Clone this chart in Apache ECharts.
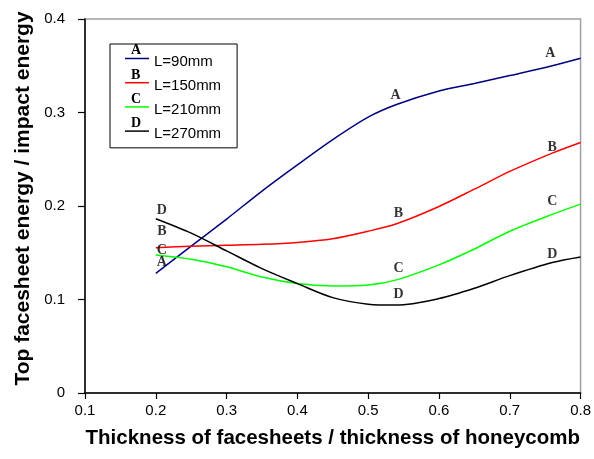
<!DOCTYPE html>
<html>
<head>
<meta charset="utf-8">
<script src="https://cdn.jsdelivr.net/npm/echarts@6/dist/echarts.min.js"></script>
<style>
html,body{margin:0;padding:0;background:#fff;}
#chart{width:594px;height:459px;}
</style>
</head>
<body>
<div id="chart"></div>
<script>
// ---- data ----
var xs      = [0.2,   0.25,  0.3,   0.35,  0.4,   0.45,  0.5,   0.54,  0.6,   0.65,  0.7,   0.76,  0.8];
var seriesA = [0.128, 0.157, 0.186, 0.216, 0.244, 0.271, 0.295, 0.3085,0.323, 0.331, 0.3395,0.350, 0.358];
var seriesB = [0.1554,0.157, 0.158, 0.159, 0.161, 0.165, 0.173, 0.181, 0.1995,0.218, 0.237, 0.2566,0.268];
var seriesC = [0.1476,0.143, 0.135, 0.124, 0.117, 0.1145,0.1155,0.121, 0.137, 0.154, 0.173, 0.191, 0.202];
var seriesD = [0.1864,0.171, 0.152, 0.133, 0.117, 0.102, 0.095, 0.094, 0.101, 0.112, 0.1255,0.1395,0.1455];
var names   = ['L=90mm', 'L=150mm', 'L=210mm', 'L=270mm'];
var letters = ['A', 'B', 'C', 'D'];
var xTicks  = [0.1, 0.2, 0.3, 0.4, 0.5, 0.6, 0.7, 0.8];
var yTicks  = [0, 0.1, 0.2, 0.3, 0.4];
var labelIdx = [0, 7, 11]; // data points that carry the curve letters

// ---- styling ----
var colors = ['#00007f', '#ff0000', '#00ff00', '#000000'];
// label offsets (px) for [start, middle, end] label of each curve
var labelOffsets = [
  [[6, -11], [-1, -9], [-2, -12]],
  [[6, -16], [2, -10], [0, -6]],
  [[6, -5],  [2, -11], [0, -13]],
  [[6, -8],  [2, -11], [0, -8]]
];
var allData = [seriesA, seriesB, seriesC, seriesD];

function pairs(ys) { return xs.map(function (x, i) { return [x, ys[i]]; }); }

var series = [];
allData.forEach(function (ys, k) {
  series.push({
    name: names[k],
    type: 'line',
    data: pairs(ys),
    smooth: 0.3,
    symbol: 'none',
    lineStyle: { color: colors[k], width: 1.5 },
    itemStyle: { color: colors[k] },
    z: 3
  });
  series.push({
    name: letters[k] + '_lbl',
    type: 'scatter',
    silent: true,
    symbol: 'circle',
    symbolSize: 1,
    itemStyle: { color: 'rgba(0,0,0,0)' },
    data: labelIdx.map(function (idx, j) {
      return {
        value: [xs[idx], ys[idx]],
        label: { offset: labelOffsets[k][j] }
      };
    }),
    label: {
      show: true,
      position: 'inside',
      formatter: letters[k],
      fontFamily: 'Liberation Serif',
      fontWeight: 'bold',
      fontSize: 14,
      color: '#000'
    },
    z: 5
  });
});

var legendLetterY = [51.7, 76, 100.5, 124.3];
var graphics = letters.map(function (l, k) {
  return {
    type: 'text',
    left: 131,
    top: legendLetterY[k] - 8,
    z: 100,
    style: {
      text: l,
      font: 'bold 14px "Liberation Serif"',
      fill: '#000'
    }
  };
});

var chart = echarts.init(document.getElementById('chart'), null, { renderer: 'canvas' });
chart.setOption({
  animation: false,
  backgroundColor: '#fff',
  grid: {
    left: 85, right: 12, top: 19, bottom: 66,
    show: true, borderColor: '#a0a0a0', borderWidth: 1.5, backgroundColor: 'transparent'
  },
  legend: {
    data: names,
    orient: 'vertical',
    left: 110,
    top: 44,
    icon: 'path://M0,0 L24,0 L24,1.5 L0,1.5 Z M0,7.5',
    itemWidth: 24,
    itemHeight: 7.5,
    itemGap: 7.7,
    padding: [9.25, 16, 5.5, 15],
    borderColor: '#000',
    borderWidth: 1,
    backgroundColor: '#fff',
    textStyle: { fontFamily: 'Liberation Sans', fontSize: 15, color: '#000', lineHeight: 16.5 }
  },
  graphic: graphics,
  xAxis: {
    type: 'value',
    min: xTicks[0],
    max: xTicks[xTicks.length - 1],
    interval: 0.1,
    name: 'Thickness of facesheets / thickness of honeycomb',
    nameLocation: 'middle',
    nameGap: 35,
    nameTextStyle: { fontFamily: 'Liberation Sans', fontWeight: 'bold', fontSize: 20.5, color: '#000' },
    axisLine: { lineStyle: { color: '#000', width: 1.5 } },
    axisTick: { show: true, inside: false, length: 6, lineStyle: { color: '#000', width: 1.2 } },
    axisLabel: {
      fontFamily: 'Liberation Sans', fontSize: 15, color: '#000', margin: 10,
      formatter: function (v) { return String(+v.toFixed(1)); }
    },
    splitLine: { show: false }
  },
  yAxis: {
    type: 'value',
    min: yTicks[0],
    max: yTicks[yTicks.length - 1],
    interval: 0.1,
    name: 'Top facesheet energy / impact energy',
    nameLocation: 'middle',
    nameGap: 50,
    nameTextStyle: { fontFamily: 'Liberation Sans', fontWeight: 'bold', fontSize: 21, color: '#000', padding: [0, 0, 0, 15] },
    axisLine: { show: true, lineStyle: { color: '#000', width: 1.5 } },
    axisTick: { show: true, inside: false, length: 7, lineStyle: { color: '#000', width: 1.2 } },
    axisLabel: {
      fontFamily: 'Liberation Sans', fontSize: 15, color: '#000', margin: 20,
      formatter: function (v) { return String(+v.toFixed(1)); }
    },
    splitLine: { show: false }
  },
  series: series
});
</script>
</body>
</html>
